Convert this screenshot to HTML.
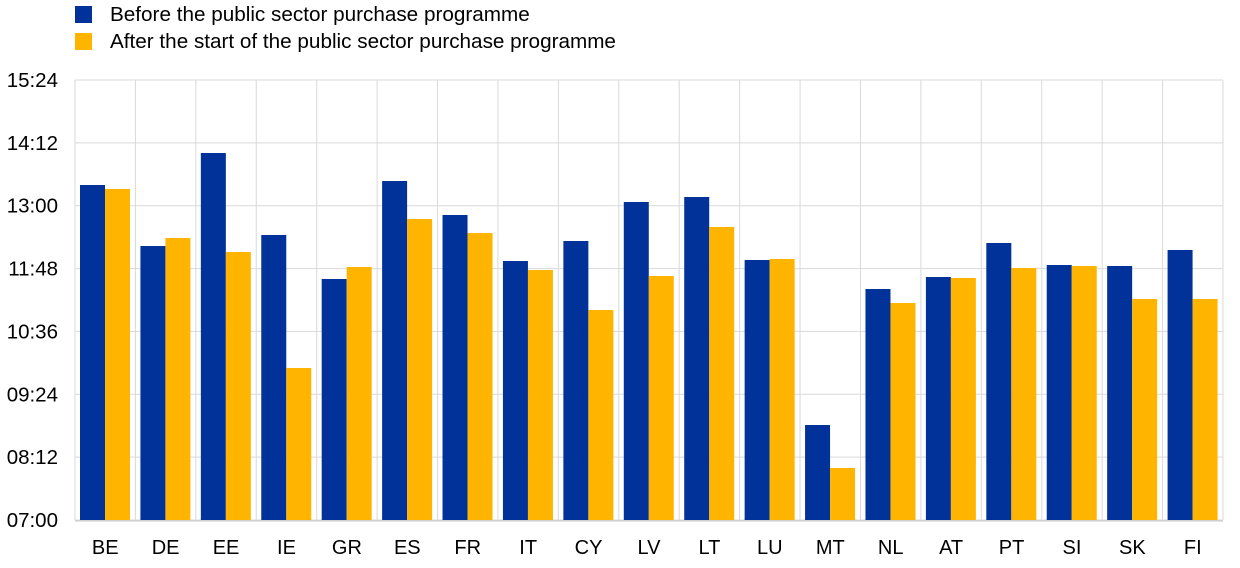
<!DOCTYPE html>
<html><head><meta charset="utf-8"><style>
html,body{margin:0;padding:0;background:#fff;}
svg text{font-family:"Liberation Sans",Arial,sans-serif;fill:#000;}
</style></head><body>
<svg width="1240" height="563" viewBox="0 0 1240 563" xmlns="http://www.w3.org/2000/svg">
<rect x="75" y="6" width="17" height="17" fill="#003299"/>
<text x="110" y="21" font-size="20.7">Before the public sector purchase programme</text>
<rect x="75" y="33" width="17" height="17" fill="#FFB400"/>
<text x="110" y="48" font-size="20.7">After the start of the public sector purchase programme</text>
<g id="grid" stroke="#d9d9d9" stroke-width="1"></g>
<g id="bars"></g>
<g id="labels" font-size="20"></g>
</svg>
<script>
const ns="http://www.w3.org/2000/svg";
const g=document.getElementById('grid'),b=document.getElementById('bars'),l=document.getElementById('labels');
function el(p,t,a,txt){const e=document.createElementNS(ns,t);for(const k in a)e.setAttribute(k,a[k]);if(txt)e.textContent=txt;p.appendChild(e);return e;}
const x0=75,x1=1223,yT=80,yB=520;
const ticks=["15:24","14:12","13:00","11:48","10:36","09:24","08:12","07:00"];
ticks.forEach((t,i)=>{const y=yT+i*(yB-yT)/7;el(g,'line',{x1:x0,x2:x1,y1:y,y2:y});el(l,'text',{x:58,y:y+7,'text-anchor':'end','font-size':'20.5'},t);});
const cats=["BE","DE","EE","IE","GR","ES","FR","IT","CY","LV","LT","LU","MT","NL","AT","PT","SI","SK","FI"];
const d=[[185,189],[246,238],[153,252],[235,368],[279,267],[181,219],[215,233],[261,270],[241,310],[202,276],[197,227],[260,259],[425,468],[289,303],[277,278],[243,268],[265,266],[266,299],[250,299]];
const w=(x1-x0)/19;
for(let i=0;i<=19;i++){const x=x0+i*w;el(g,'line',{x1:x,x2:x,y1:yT,y2:yB});}
cats.forEach((c,i)=>{const cx=x0+i*w;
el(b,'rect',{x:cx+5,y:d[i][0],width:25,height:yB-d[i][0],fill:'#003299'});
el(b,'rect',{x:cx+30,y:d[i][1],width:25,height:yB-d[i][1],fill:'#FFB400'});
el(l,'text',{x:cx+w/2,y:554,'text-anchor':'middle'},c);});
el(g,'line',{x1:x0,x2:x1,y1:yB+1,y2:yB+1,stroke:'#c8c8c8'});
</script>
</body></html>
